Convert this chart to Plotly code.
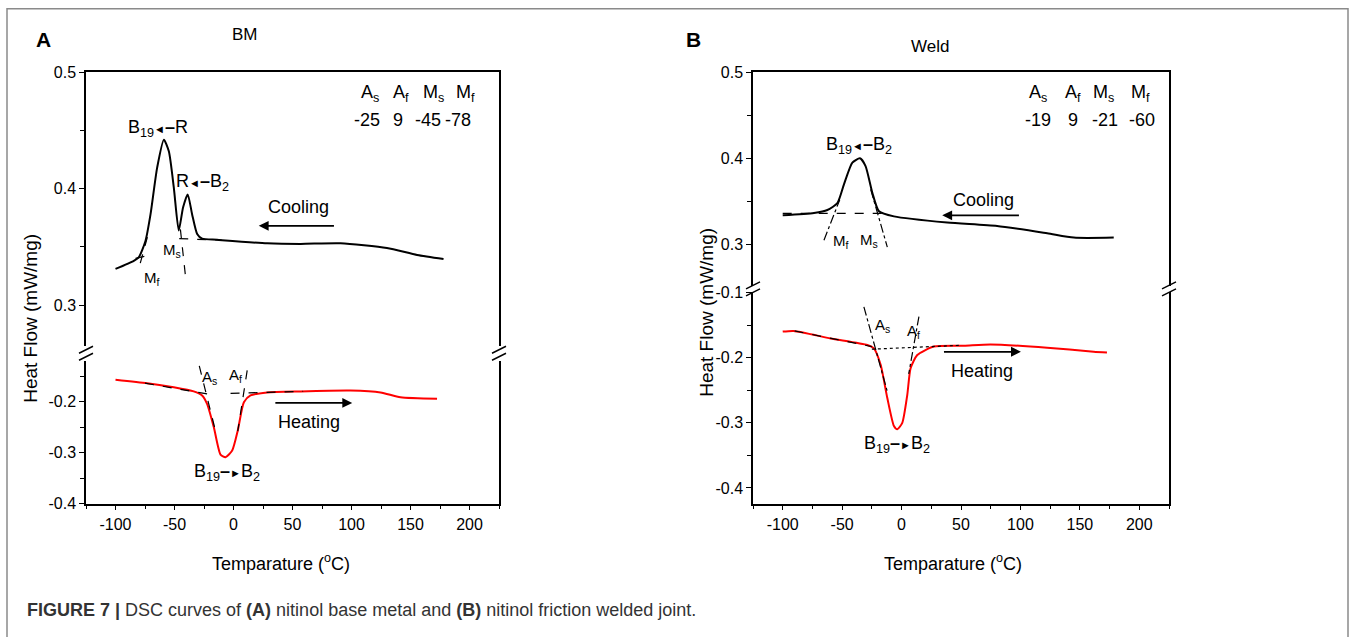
import plotly.graph_objects as go

W, H = 1354, 637

# ---- data ----
# Panel A (BM): cooling (black) and heating (red) curves
a_cool_t = [-100, -84.5, -80.3, -74.6, -70.3, -64.7, -59, -54.8, -50.6, -46.4, -42.7, -38.8,
            -35.1, -30.8, -26.6, -13.9, 28.5, 56.8, 90.7, 130, 155.6, 178]
a_cool_v = [0.331, 0.338, 0.341, 0.355, 0.378, 0.418, 0.442, 0.432, 0.401, 0.364, 0.384, 0.395,
            0.378, 0.361, 0.357, 0.356, 0.353, 0.3525, 0.353, 0.349, 0.343, 0.3395]
a_heat_t = [-100, -73.2, -50.6, -33.7, -26.6, -22.4, -16.7, -11, -6.8, -1.1, 3.6, 8.8, 14.4,
            28.5, 56.8, 99, 124.6, 141.5, 172.5]
a_heat_v = [-0.157, -0.164, -0.172, -0.180, -0.188, -0.2045, -0.250, -0.304, -0.309, -0.296,
            -0.257, -0.2013, -0.188, -0.182, -0.180, -0.1785, -0.182, -0.1915, -0.1945]

# Panel B (Weld)
b_cool_t = [-100, -73.7, -62.4, -54, -48.4, -41.4, -35, -30.3, -24.6, -19, -6.4, 38.4, 80.4,
            122.5, 144.9, 178.5]
b_cool_v = [0.3338, 0.3365, 0.340, 0.348, 0.370, 0.395, 0.400, 0.391, 0.360, 0.3385, 0.3326,
            0.3255, 0.3215, 0.313, 0.308, 0.308]
b_heat_t = [-100, -90.7, -59.7, -28.8, -23.3, -17.6, -12, -6.4, -3.6, 0.6, 4.8, 7.6, 13.2,
            27.2, 52.5, 74.8, 122.5, 161.6, 172.8]
b_heat_v = [-0.160, -0.159, -0.1705, -0.1806, -0.1858, -0.211, -0.262, -0.305, -0.310, -0.300,
            -0.257, -0.2163, -0.196, -0.183, -0.1817, -0.1797, -0.1847, -0.1908, -0.192]

# tangent / baseline construction lines (start, end)
a_cool_base_t, a_cool_base_v = [-46, -10], [0.357, 0.3557]
a_ms_tan_t, a_ms_tan_v = [-45, -40.5], [0.365, 0.323]
a_mf_base_t, a_mf_base_v = [-83, -70], [0.340, 0.343]
a_mf_tan_t, a_mf_tan_v = [-79, -72], [0.336, 0.362]
a_heat_lbase_t, a_heat_lbase_v = [-75, -15], [-0.164, -0.188]
a_heat_rbase_t, a_heat_rbase_v = [-2.5, 59], [-0.184, -0.180]
a_as_tan_t, a_as_tan_v = [-29, -15], [-0.13, -0.26]
a_af_tan_t, a_af_tan_v = [11.6, 3.6], [-0.139, -0.258]

b_cool_base_t, b_cool_base_v = [-100, -15], [0.336, 0.336]
b_mf_tan_t, b_mf_tan_v = [-65.3, -52], [0.305, 0.352]
b_ms_tan_t, b_ms_tan_v = [-26, -12], [0.364, 0.297]
b_heat_lbase_t, b_heat_lbase_v = [-90, -25], [-0.159, -0.183]
b_heat_base_t, b_heat_base_v = [-25, 50], [-0.187, -0.181]
b_as_tan_t, b_as_tan_v = [-31.7, -12], [-0.122, -0.252]
b_af_tan_t, b_af_tan_v = [14.6, 6], [-0.137, -0.225]

# transformation temperatures table
temp_names = ["A<sub>s</sub>", "A<sub>f</sub>", "M<sub>s</sub>", "M<sub>f</sub>"]
a_temps = ["-25", "9", "-45", "-78"]
b_temps = ["-19", "9", "-21", "-60"]

# ticks
x_tick_vals = [-100, -50, 0, 50, 100, 150, 200]
x_tick_text = ["-100", "-50", "0", "50", "100", "150", "200"]
x_minor_vals = [-125, -75, -25, 25, 75, 125, 175, 225]
y_up_vals = [0.3, 0.4, 0.5]
y_up_text = ["0.3", "0.4", "0.5"]
y_up_minor = [0.35, 0.45]
a_y_lo_vals = [-0.4, -0.3, -0.2]
a_y_lo_text = ["-0.4", "-0.3", "-0.2"]
b_y_lo_vals = [-0.4, -0.3, -0.2, -0.1]
b_y_lo_text = ["-0.4", "-0.3", "-0.2", "-0.1"]
y_lo_minor = [-0.35, -0.25, -0.15]

FONT = "Arial, Liberation Sans, sans-serif"
L_ARROW = "<span style='font-size:11px'>◄</span><b>–</b>"
R_ARROW = "<b>–</b><span style='font-size:11px'>►</span>"


def px(x):
    return x / W


def py(y):
    # page pixels from the top -> paper fraction (corrects the small vertical squeeze of the capture)
    return 1 - ((y - 6.8) / 0.9745) / H


fig = go.Figure()


def line(xs, ys, xa, ya, color="black", width=2):
    fig.add_trace(go.Scatter(x=xs, y=ys, xaxis=xa, yaxis=ya, mode="lines",
                             line=dict(color=color, width=width, shape="spline", smoothing=0.6),
                             showlegend=False, hoverinfo="skip"))


def tline(xs, ys, xa, ya, dash="dash"):
    fig.add_trace(go.Scatter(x=xs, y=ys, xaxis=xa, yaxis=ya, mode="lines",
                             line=dict(color="black", width=1.2, dash=dash),
                             showlegend=False, hoverinfo="skip"))


line(a_cool_t, a_cool_v, "x", "y")
line(a_heat_t, a_heat_v, "x2", "y2", color="#ff0000")
line(b_cool_t, b_cool_v, "x3", "y3")
line(b_heat_t, b_heat_v, "x4", "y4", color="#ff0000")

tline(a_cool_base_t, a_cool_base_v, "x", "y")
tline(a_ms_tan_t, a_ms_tan_v, "x", "y")
tline(a_mf_base_t, a_mf_base_v, "x", "y")
tline(a_mf_tan_t, a_mf_tan_v, "x", "y")
tline(a_heat_lbase_t, a_heat_lbase_v, "x2", "y2")
tline(a_heat_rbase_t, a_heat_rbase_v, "x2", "y2")
tline(a_as_tan_t, a_as_tan_v, "x2", "y2")
tline(a_af_tan_t, a_af_tan_v, "x2", "y2")

tline(b_cool_base_t, b_cool_base_v, "x3", "y3")
tline(b_mf_tan_t, b_mf_tan_v, "x3", "y3", dash="dashdot")
tline(b_ms_tan_t, b_ms_tan_v, "x3", "y3", dash="dashdot")
tline(b_heat_lbase_t, b_heat_lbase_v, "x4", "y4")
tline(b_heat_base_t, b_heat_base_v, "x4", "y4", dash="dot")
tline(b_as_tan_t, b_as_tan_v, "x4", "y4", dash="dashdot")
tline(b_af_tan_t, b_af_tan_v, "x4", "y4", dash="dashdot")

# ---- axes ----
xA = [px(86), px(499)]
xB = [px(753), px(1169)]
ax_common = dict(showline=True, linecolor="black", linewidth=1.5, showgrid=False,
                 zeroline=False, tickfont=dict(family=FONT, size=16, color="black"),
                 ticks="outside", ticklen=5, tickwidth=1.2, tickcolor="black")


def x_top(dom, anchor):
    return dict(domain=dom, range=[-125, 225], anchor=anchor, side="top", showline=True,
                linecolor="black", linewidth=1.5, showticklabels=False, ticks="",
                showgrid=False, zeroline=False)


def x_bot(dom, anchor):
    return dict(ax_common, domain=dom, range=[-125, 225], anchor=anchor,
                tickvals=x_tick_vals, ticktext=x_tick_text,
                minor=dict(tickvals=x_minor_vals, ticks="outside", ticklen=4,
                           tickcolor="black", tickwidth=1.2))


def y_ax(dom, rng, vals, text, minor, anchor):
    return dict(ax_common, domain=dom, range=rng, anchor=anchor, mirror=True,
                tickvals=vals, ticktext=text,
                minor=dict(tickvals=minor, ticks="outside", ticklen=4,
                           tickcolor="black", tickwidth=1.2))


fig.update_layout(
    width=W, height=H, margin=dict(l=0, r=0, t=0, b=0),
    paper_bgcolor="white", plot_bgcolor="white",
    font=dict(family=FONT, size=16, color="black"),
    xaxis=x_top(xA, "y"),
    xaxis2=dict(x_bot(xA, "y2"), matches="x"),
    xaxis3=x_top(xB, "y3"),
    xaxis4=dict(x_bot(xB, "y4"), matches="x3"),
    yaxis=y_ax([py(345), py(71)], [0.265, 0.5], y_up_vals, y_up_text, y_up_minor, "x"),
    yaxis2=y_ax([py(503), py(360)], [-0.4, -0.12], a_y_lo_vals, a_y_lo_text, y_lo_minor, "x2"),
    yaxis3=y_ax([py(285), py(71)], [0.252, 0.5], y_up_vals, y_up_text, y_up_minor, "x3"),
    yaxis4=y_ax([py(503), py(291)], [-0.424, -0.099], b_y_lo_vals, b_y_lo_text, y_lo_minor, "x4"),
)

# ---- axis break marks ----
shapes = []
for xb, yc in [(86, 352.5), (499, 352.5), (753, 288), (1169, 288)]:
    for off in (-3.5, 3.5):
        shapes.append(dict(type="line", xref="paper", yref="paper",
                           x0=px(xb - 7), y0=py(yc + off + 3.5), x1=px(xb + 7), y1=py(yc + off - 3.5),
                           line=dict(color="black", width=1.5)))
# figure border
shapes.append(dict(type="rect", xref="paper", yref="paper", x0=px(7), y0=-0.05, x1=px(1348),
                   y1=py(7.5), line=dict(color="#8a8a8a", width=1.5)))
fig.update_layout(shapes=shapes)

# ---- annotations ----
ann = []


def txt(x, y, s, xr, yr, size=17, **kw):
    ann.append(dict(x=x, y=y, xref=xr, yref=yr, text=s, showarrow=False,
                    xanchor="center", yanchor="middle",
                    font=dict(family=FONT, size=size, color="black"), **kw))


def arrow(x_head, x_tail, y, xr, yr):
    ann.append(dict(x=x_head, y=y, ax=x_tail, ay=y, xref=xr, yref=yr, axref=xr, ayref=yr,
                    text="", showarrow=True, arrowhead=2, arrowsize=1.1, arrowwidth=1.8,
                    arrowcolor="black"))


# panel letters and titles
txt(px(43), py(38), "<b>A</b>", "paper", "paper", size=21)
txt(px(693), py(38), "<b>B</b>", "paper", "paper", size=21)
txt(px(245), py(33), "BM", "paper", "paper")
txt(px(930), py(45), "Weld", "paper", "paper")

# axis titles
txt(px(281), py(562), "Temparature (<sup>o</sup>C)", "paper", "paper", size=18)
txt(px(953), py(562), "Temparature (<sup>o</sup>C)", "paper", "paper", size=18)
txt(px(31), py(318), "Heat Flow (mW/mg)", "paper", "paper", size=19, textangle=-90)
txt(px(707), py(312), "Heat Flow (mW/mg)", "paper", "paper", size=19, textangle=-90)

# temperature tables
for xs_h, xs_v, vals in [([370, 401, 433, 465], [367, 398, 428, 458], a_temps),
                         ([1038, 1073, 1103, 1140], [1038, 1073, 1105, 1142], b_temps)]:
    for xh, xv, name, v in zip(xs_h, xs_v, temp_names, vals):
        txt(px(xh), py(92), name, "paper", "paper", size=18)
        txt(px(xv), py(119), v, "paper", "paper", size=18)

# panel A labels
txt(-63.6, 0.452, "B<sub>19</sub>" + L_ARROW + "R", "x", "y", size=18)
txt(-26.5, 0.405, "R" + L_ARROW + "B<sub>2</sub>", "x", "y", size=18)
txt(55, 0.384, "Cooling", "x", "y", size=18)
arrow(21.4, 86.4, 0.368, "x", "y")
txt(-52, 0.347, "M<sub>s</sub>", "x", "y", size=15)
txt(-69, 0.323, "M<sub>f</sub>", "x", "y", size=15)
txt(63.8, -0.2405, "Heating", "x2", "y2", size=18)
arrow(100.6, 34.2, -0.2026, "x2", "y2")
txt(-5.4, -0.3386, "B<sub>19</sub>" + R_ARROW + "B<sub>2</sub>", "x2", "y2", size=18)
txt(-20, -0.1524, "A<sub>s</sub>", "x2", "y2", size=15)
txt(1.7, -0.149, "A<sub>f</sub>", "x2", "y2", size=15)

# panel B labels
txt(-35.9, 0.415, "B<sub>19</sub>" + L_ARROW + "B<sub>2</sub>", "x3", "y3", size=18)
txt(69.2, 0.352, "Cooling", "x3", "y3", size=18)
arrow(34.2, 100, 0.3338, "x3", "y3")
txt(-51.3, 0.303, "M<sub>f</sub>", "x3", "y3", size=15)
txt(-27.5, 0.305, "M<sub>s</sub>", "x3", "y3", size=15)
txt(-16.2, -0.15, "A<sub>s</sub>", "x4", "y4", size=15)
txt(9.8, -0.160, "A<sub>f</sub>", "x4", "y4", size=15)
txt(-3.6, -0.333, "B<sub>19</sub>" + R_ARROW + "B<sub>2</sub>", "x4", "y4", size=18)
txt(67.8, -0.221, "Heating", "x4", "y4", size=18)
arrow(100.4, 34.4, -0.191, "x4", "y4")

# caption
ann.append(dict(x=px(25), y=py(610), xref="paper", yref="paper", xanchor="left",
                yanchor="middle", showarrow=False,
                text="<b>FIGURE 7 |</b> DSC curves of <b>(A)</b> nitinol base metal and "
                     "<b>(B)</b> nitinol friction welded joint.",
                font=dict(family="Liberation Sans Narrow, Arial Narrow, Liberation Sans",
                          size=18, color="#333333")))

fig.update_layout(annotations=ann)

fig.write_html(
    "out.html",
    config={"displayModeBar": False},
    post_script=(
        "document.documentElement.style.margin='0';"
        "document.body.style.margin='0';"
        "document.body.style.height='637px';"
        "document.body.style.overflow='hidden';"
        "document.documentElement.style.overflow='hidden';"
    ),
)
